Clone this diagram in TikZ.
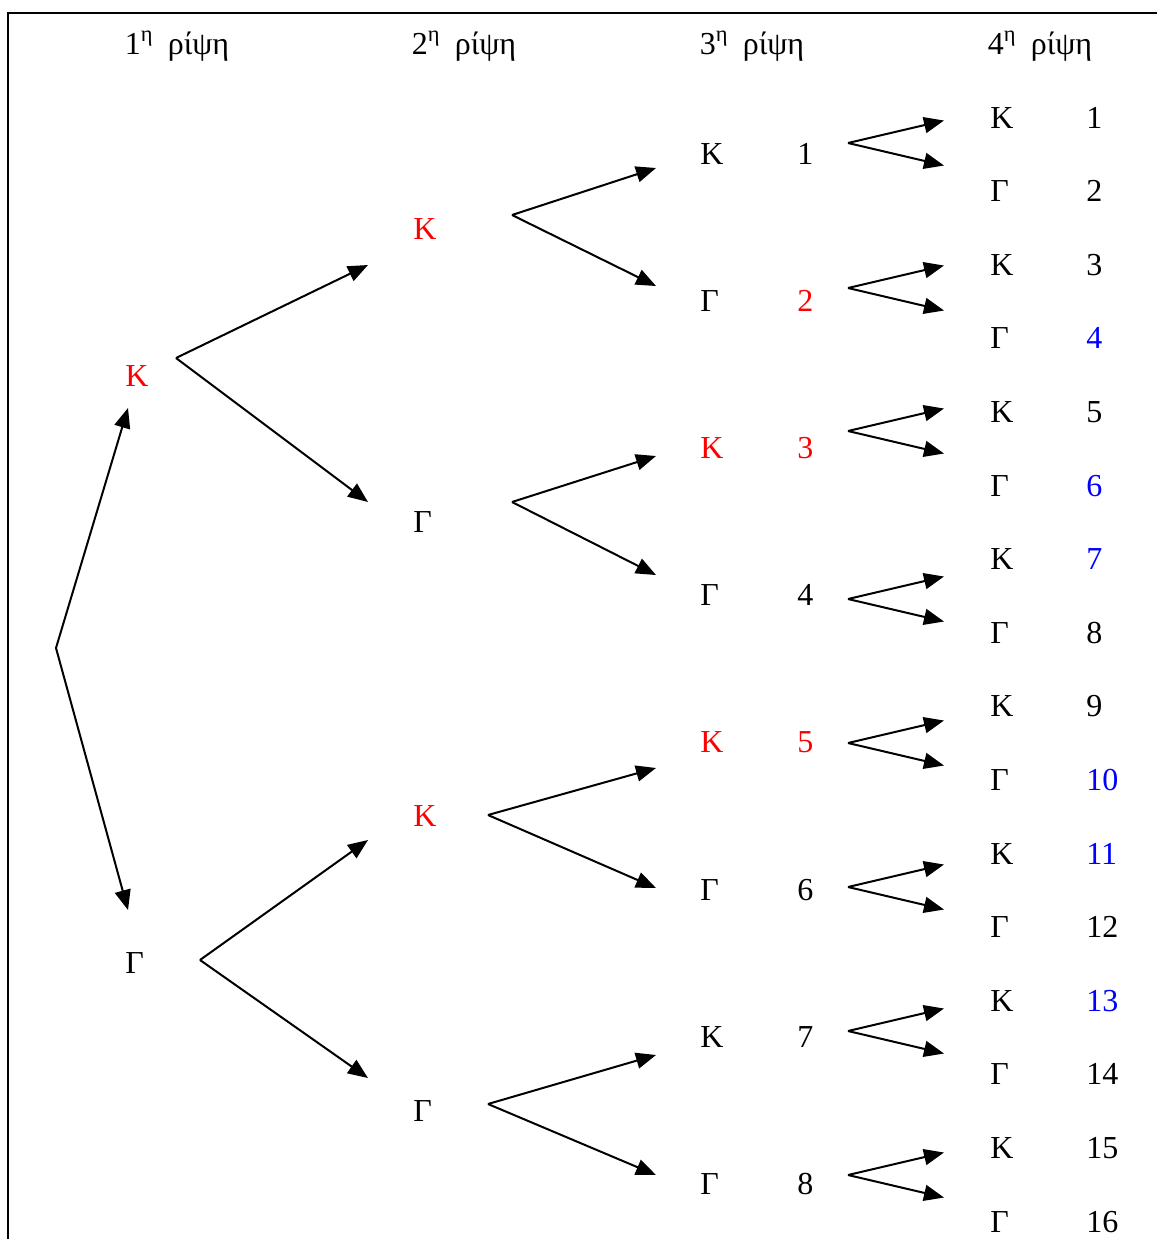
\documentclass[tikz,border=0pt]{standalone}
\usepackage{fontspec}
\setmainfont{Liberation Serif}
\usetikzlibrary{arrows.meta}
\begin{document}
\begin{tikzpicture}[x=0.5pt,y=-0.5pt,
  lbl/.style={anchor=base west,inner sep=0pt,font=\fontsize{16}{20}\selectfont},
  hdr/.style={anchor=base,inner sep=0pt,font=\fontsize{16}{20}\selectfont},
  arr/.style={-{Triangle[length=10pt,width=8pt]},line width=1pt},
  frame/.style={line width=1.1pt}]
\useasboundingbox (0,0) rectangle (1157,1239);
\draw[frame] (8,1239) -- (8,13) -- (1157,13);
% headers
\node[hdr] (h1) at (177,54) {1\textsuperscript{η}\hspace{0.45em}ρίψη};
\node[hdr] (h2) at (464,54) {2\textsuperscript{η}\hspace{0.45em}ρίψη};
\node[hdr] (h3) at (752,54) {3\textsuperscript{η}\hspace{0.45em}ρίψη};
\node[hdr] (h4) at (1040,54) {4\textsuperscript{η}\hspace{0.45em}ρίψη};
% level 1
\node[lbl,text=red] (a1) at (125,386) {K};
\node[lbl] (a2) at (125,973) {Γ};
% level 2
\node[lbl,text=red] (b1) at (413,239) {K};
\node[lbl] (b2) at (413,532) {Γ};
\node[lbl,text=red] (b3) at (413,826) {K};
\node[lbl] (b4) at (413,1121) {Γ};
% level 3
\foreach \i/\L/\cl/\cn/\yv in {1/K/black/black/143,2/Γ/black/red/288,3/K/red/red/431,4/Γ/black/black/599,5/K/red/red/743,6/Γ/black/black/887,7/K/black/black/1031,8/Γ/black/black/1175}{
  \pgfmathsetmacro\yy{164+147.2*(\i-1)}
  \node[lbl,text=\cl] (c\i) at (700,\yy) {\L};
  \node[lbl,text=\cn] (cn\i) at (797,\yy) {\i};
  \pgfmathsetmacro\ya{\yv-22.5}
  \pgfmathsetmacro\yb{\yv+22.5}
  \coordinate (w\i) at (848,\yv);
  \coordinate (wa\i) at (944,\ya);
  \coordinate (wb\i) at (944,\yb);
  \draw[arr] (w\i) -- (wa\i);
  \draw[arr] (w\i) -- (wb\i);
}
% level 4
\foreach \j/\L/\c in {1/K/black,2/Γ/black,3/K/black,4/Γ/blue,5/K/black,6/Γ/blue,7/K/blue,8/Γ/black,9/K/black,10/Γ/blue,11/K/blue,12/Γ/black,13/K/blue,14/Γ/black,15/K/black,16/Γ/black}{
  \pgfmathsetmacro\yy{128+73.6*(\j-1)}
  \node[lbl] (d\j) at (990,\yy) {\L};
  \node[lbl,text=\c] (dn\j) at (1086,\yy) {\j};
}
% root arrows
\coordinate (r) at (56,648);
\coordinate (ra) at (128,408);
\coordinate (rb) at (128,910);
\draw[arr] (r) -- (ra);
\draw[arr] (r) -- (rb);
% level 1 -> 2
\coordinate (u1) at (176,358);
\coordinate (u1a) at (368,265);
\coordinate (u1b) at (368,502);
\coordinate (u2) at (200,960);
\coordinate (u2a) at (368,840);
\coordinate (u2b) at (368,1078);
\draw[arr] (u1) -- (u1a);
\draw[arr] (u1) -- (u1b);
\draw[arr] (u2) -- (u2a);
\draw[arr] (u2) -- (u2b);
% level 2 -> 3
\coordinate (v1) at (512,215);
\coordinate (v1a) at (656,168);
\coordinate (v1b) at (656,286);
\coordinate (v2) at (512,502);
\coordinate (v2a) at (656,456);
\coordinate (v2b) at (656,575);
\coordinate (v3) at (488,815);
\coordinate (v3a) at (656,768);
\coordinate (v3b) at (656,888);
\coordinate (v4) at (488,1104);
\coordinate (v4a) at (656,1055);
\coordinate (v4b) at (656,1175);
\foreach \k in {1,2,3,4}{
  \draw[arr] (v\k) -- (v\k a);
  \draw[arr] (v\k) -- (v\k b);
}
\end{tikzpicture}
\end{document}
